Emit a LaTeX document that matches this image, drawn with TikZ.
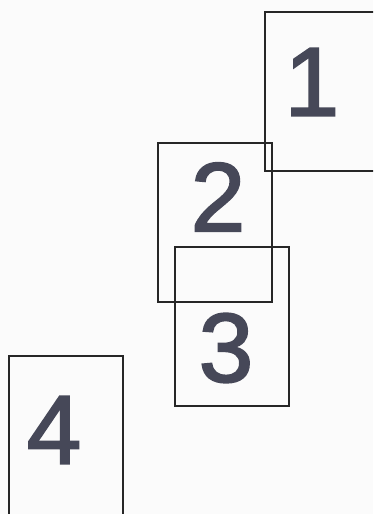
\documentclass[tikz,border=0pt]{standalone}
\usepackage{fontspec}
\setmainfont{Liberation Sans}
\newfontfamily\digitfont[FakeBold=2]{Liberation Sans}
\definecolor{digit}{HTML}{464858}
\begin{document}
\begin{tikzpicture}[x=1pt,y=1pt,
  card/.style={draw=black!85,line width=1.8pt,minimum width=114pt,minimum height=159pt,inner sep=0pt,anchor=north west},
  num/.style={text=digit,font=\digitfont\fontsize{98}{98}\selectfont,inner sep=0pt}]
\useasboundingbox (0,0) rectangle (373,514);
\fill[white!97!gray] (0,0) rectangle (373,514);
\clip (0,0) rectangle (373,514);
\node[card] (c1) at (264,503) {};
\node[card] (c2) at (157,372) {};
\node[card] (c3) at (174,268) {};
\node[card] (c4) at (8,159) {};
\node[num] (n1) at (312,432) {1};
\node[num] (n2) at (218,317) {2};
\node[num] (n3) at (226,166) {3};
\node[num] (n4) at (54,84) {4};
\end{tikzpicture}
\end{document}
